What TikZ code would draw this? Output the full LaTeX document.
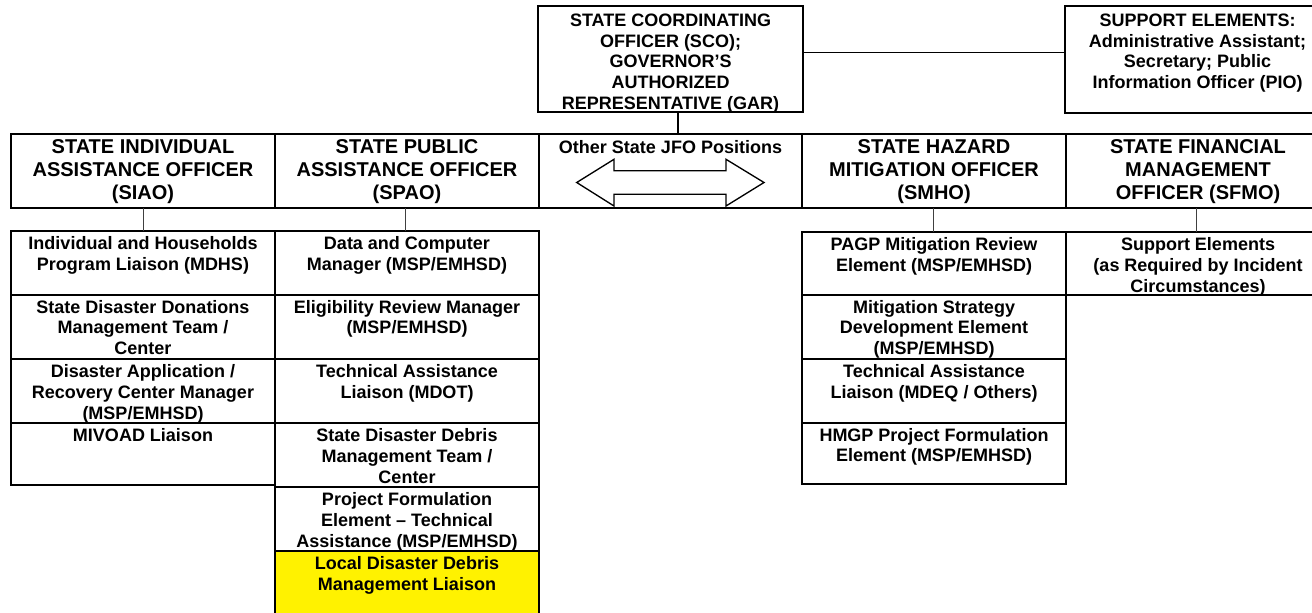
\documentclass[tikz,border=0pt]{standalone}
\usepackage{fontspec}
\setmainfont{Liberation Sans}
\tikzset{
 boxst/.style={draw, line width=1.5pt, inner sep=0pt, outer sep=0pt},
 hdr/.style={font=\fontsize{15}{17.5}\selectfont\bfseries, align=center, inner sep=0pt},
 subt/.style={font=\fontsize{13.5}{15.5}\selectfont\bfseries, align=center, inner sep=0pt},
 topt/.style={font=\fontsize{13.5}{15.6}\selectfont\bfseries, align=center, inner sep=0pt},
 conn/.style={line width=0.75pt, black!75},
 thickconn/.style={line width=1.5pt},
 midconn/.style={line width=1pt},
 arrowshape/.style={draw, line width=1pt, fill=white, line join=miter},
}
% name, x1, y1, x2, y2, extra style
\newcommand\obox[6]{%
  \node[boxst,#6, minimum width={(#4-#2)*0.75pt}, minimum height={(#5-#3)*0.75pt}, anchor=north west] (#1) at (#2,#3) {};}
% name, text style, offset(px), text
\newcommand\otext[4]{%
  \node[#2, anchor=north] (#1t) at ([yshift={-#3*0.75pt}]#1.north) {#4};}
\begin{document}
\begin{tikzpicture}[x=0.75pt,y=-0.75pt]
\useasboundingbox (0,0) rectangle (1312,613);
% top boxes
\obox{sco}{538.3}{6}{802.7}{112.5}{}
\otext{sco}{topt}{7.5}{STATE COORDINATING\\OFFICER (SCO);\\GOVERNOR’S\\AUTHORIZED\\REPRESENTATIVE (GAR)}
\obox{sup}{1065}{6}{1330}{112.7}{}
\otext{sup}{topt}{7.5}{SUPPORT ELEMENTS:\\Administrative Assistant;\\Secretary; Public\\Information Officer (PIO)}
% header row
\obox{siao}{11}{134.5}{275}{208}{}
\otext{siao}{hdr}{4.5}{STATE INDIVIDUAL\\ASSISTANCE OFFICER\\(SIAO)}
\obox{spao}{275}{134.5}{539}{208}{}
\otext{spao}{hdr}{4.5}{STATE PUBLIC\\ASSISTANCE OFFICER\\(SPAO)}
\obox{jfo}{539}{134.5}{802}{208}{}
\otext{jfo}{subt}{6}{Other State JFO Positions}
\obox{smho}{802}{134.5}{1066}{208}{}
\otext{smho}{hdr}{4.5}{STATE HAZARD\\MITIGATION OFFICER\\(SMHO)}
\obox{sfmo}{1066}{134.5}{1330}{208}{}
\otext{sfmo}{hdr}{4.5}{STATE FINANCIAL\\MANAGEMENT\\OFFICER (SFMO)}
% double arrow
\draw[arrowshape] (576.7,182.5) -- (614,159.3) -- (614,170.7) -- (726,170.7) -- (726,159.3)
  -- (764,182.5) -- (726,206) -- (726,194.3) -- (614,194.3) -- (614,206) -- cycle;
% SIAO column
\obox{sa}{11}{231}{275}{294.5}{}
\otext{sa}{subt}{5.5}{Individual and Households\\Program Liaison (MDHS)}
\obox{sb}{11}{294.5}{275}{359}{}
\otext{sb}{subt}{5.5}{State Disaster Donations\\Management Team /\\Center}
\obox{sc}{11}{359}{275}{423}{}
\otext{sc}{subt}{5.5}{Disaster Application /\\Recovery Center Manager\\(MSP/EMHSD)}
\obox{sd}{11}{423}{275}{485}{}
\otext{sd}{subt}{5.5}{MIVOAD Liaison}
% SPAO column
\obox{pa}{275}{231}{539}{294.5}{}
\otext{pa}{subt}{5.5}{Data and Computer\\Manager (MSP/EMHSD)}
\obox{pb}{275}{294.5}{539}{359}{}
\otext{pb}{subt}{5.5}{Eligibility Review Manager\\(MSP/EMHSD)}
\obox{pc}{275}{359}{539}{423}{}
\otext{pc}{subt}{5.5}{Technical Assistance\\Liaison (MDOT)}
\obox{pd}{275}{423}{539}{487}{}
\otext{pd}{subt}{5.5}{State Disaster Debris\\Management Team /\\Center}
\obox{pe}{275}{487}{539}{551}{}
\otext{pe}{subt}{5.5}{Project Formulation\\Element – Technical\\Assistance (MSP/EMHSD)}
\obox{pf}{275}{551}{539}{616}{fill=yellow}
\otext{pf}{subt}{5.5}{Local Disaster Debris\\Management Liaison}
% SMHO column
\obox{ma}{802}{232}{1066}{294.5}{}
\otext{ma}{subt}{5.5}{PAGP Mitigation Review\\Element (MSP/EMHSD)}
\obox{mb}{802}{294.5}{1066}{359}{}
\otext{mb}{subt}{5.5}{Mitigation Strategy\\Development Element\\(MSP/EMHSD)}
\obox{mc}{802}{359}{1066}{422.5}{}
\otext{mc}{subt}{5.5}{Technical Assistance\\Liaison (MDEQ / Others)}
\obox{md}{802}{422.5}{1066}{483.5}{}
\otext{md}{subt}{5.5}{HMGP Project Formulation\\Element (MSP/EMHSD)}
% SFMO column
\obox{fa}{1066}{232}{1330}{294.5}{}
\otext{fa}{subt}{5.5}{Support Elements\\(as Required by Incident\\Circumstances)}
% connectors
\draw[thickconn] ([xshift=5.85pt]sco.south) -- ([xshift=5.85pt]sco.south |- jfo.north);
\coordinate (sl) at (802.7,52.3);
\draw[midconn] (sco.east |- sl) -- (sup.west |- sl);
\draw[conn] (siao.south) -- (siao.south |- sa.north);
\draw[conn] ([xshift=-1pt]spao.south) -- ([xshift=-1pt]spao.south |- pa.north);
\draw[conn] ([xshift=-0.75pt]smho.south) -- ([xshift=-0.75pt]smho.south |- ma.north);
\draw[conn] ([xshift=-1.5pt]sfmo.south) -- ([xshift=-1.5pt]sfmo.south |- fa.north);
\end{tikzpicture}
\end{document}
